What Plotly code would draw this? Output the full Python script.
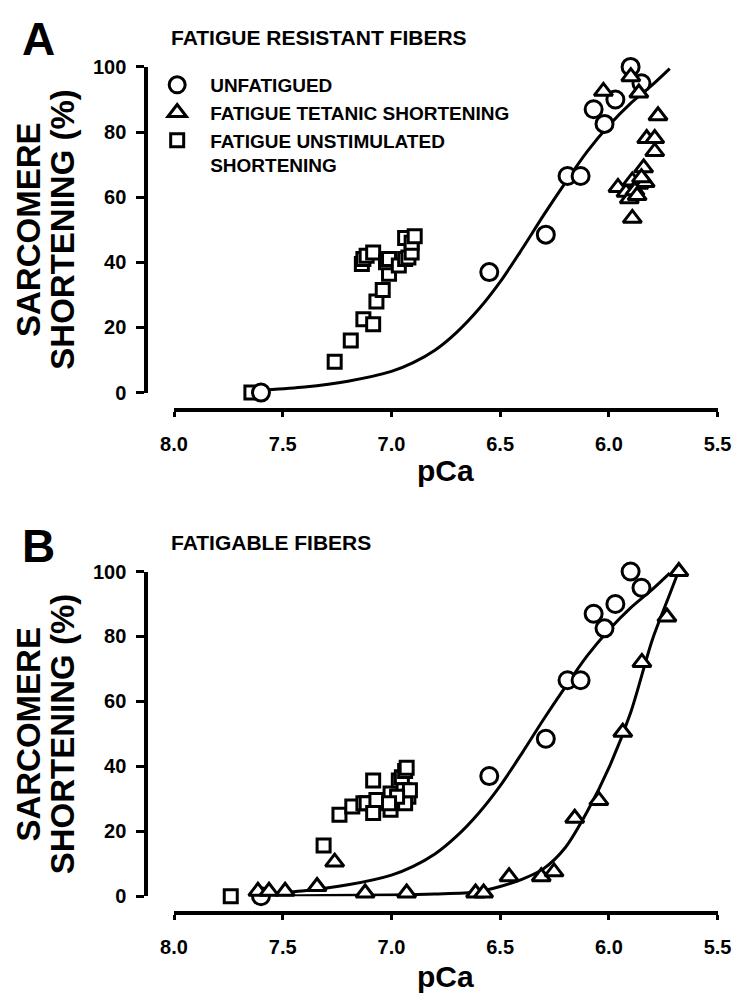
import plotly.graph_objects as go

# ---------------- data ----------------
# Panel A - fatigue resistant fibers
uf_pca = [7.60, 6.55, 6.29, 6.19, 6.13, 6.07, 6.02, 5.97, 5.90, 5.85]
uf_val = [0, 37, 48.5, 66.5, 66.5, 87, 82.5, 90, 100, 95]

uf_fit_pca = [7.58, 7.4, 7.2, 7.0, 6.9, 6.8, 6.7, 6.6, 6.5, 6.4, 6.3, 6.2, 6.1, 6.0, 5.9, 5.8, 5.72]
uf_fit_val = [0.8, 1.7, 3.5, 6.5, 9.2, 13, 18.5, 25.5, 34, 44, 54.5, 64.5, 74, 82, 88.8, 94.5, 99.5]

ftA_pca = [6.025, 5.899, 5.862, 5.774, 5.826, 5.789, 5.789, 5.840, 5.958, 5.921,
           5.892, 5.862, 5.833, 5.906, 5.892, 5.880, 5.850, 5.870]
ftA_val = [92.5, 97, 92, 85, 78, 78, 74, 69, 63, 61.5,
           65, 64, 64.5, 59.5, 53.5, 62, 66, 60.5]

fuA_pca = [7.644, 7.261, 7.187, 7.129, 7.084, 7.069, 7.040, 7.011, 7.136, 7.129, 7.114,
           7.084, 7.025, 7.011, 6.966, 6.937, 6.922, 6.907, 6.937, 6.907, 6.893]
fuA_val = [0, 9.5, 16, 22.5, 21, 28, 31.5, 36.5, 39.5, 41, 42,
           43, 40, 41, 39, 41, 41.5, 43, 47.5, 46, 48]

# Panel B - fatigable fibers
ftB_pca = [7.614, 7.563, 7.489, 7.342, 7.261, 7.121, 6.930, 6.613, 6.576, 6.459,
           6.311, 6.252, 6.157, 6.046, 5.936, 5.848, 5.733, 5.678]
ftB_val = [1.5, 1.5, 1.5, 3, 10.5, 1, 1, 1, 1, 6,
           6, 7.5, 24, 29.5, 50.5, 72, 86, 100]

ftB_fit_pca = [7.62, 7.3, 7.0, 6.8, 6.61, 6.5, 6.4, 6.3, 6.2, 6.1, 6.0, 5.9, 5.8, 5.72, 5.68]
ftB_fit_val = [0, 0.2, 0.4, 0.7, 1.3, 3, 5.2, 8.5, 15, 26, 39.5, 56.5, 79, 93, 100]

fuB_pca = [7.739, 7.312, 7.239, 7.180, 7.129, 7.084, 7.114, 7.084, 7.069, 7.004, 7.004,
           6.966, 6.952, 6.937, 6.930, 6.944, 6.922, 6.937, 6.915, 6.974, 7.011]
fuB_val = [0, 15.6, 25.1, 27.6, 28.6, 35.6, 28.6, 25.6, 29.6, 31.6, 26.6,
           35.6, 36.6, 38.6, 39.6, 32.6, 30.6, 28.6, 32.6, 30.6, 28.6]

x_ticks = [8.0, 7.5, 7.0, 6.5, 6.0, 5.5]
x_ticktext = ["8.0", "7.5", "7.0", "6.5", "6.0", "5.5"]
y_ticks = [0, 20, 40, 60, 80, 100]

names = ["UNFATIGUED", "FATIGUE TETANIC SHORTENING", "FATIGUE UNSTIMULATED<br>SHORTENING"]

# ---------------- styling ----------------
# page body has an 8px default margin; size the figure so it fills the window
OFF = 8
W, H = 746 - OFF, 1005 - OFF
FONT = "Liberation Sans, Arial, Helvetica, sans-serif"
BLACK = "black"


def fx(px):
    return (px - OFF) / W


def fy(py):
    return 1 - (py - OFF) / H


def mk(symbol, size):
    return dict(symbol=symbol, size=size, color="white",
                line=dict(color=BLACK, width=3))


fig = go.Figure()

panels = [
    ("x", "y", uf_fit_pca, uf_fit_val, None, None, fuA_pca, fuA_val, ftA_pca, ftA_val, True),
    ("x2", "y2", uf_fit_pca, uf_fit_val, ftB_fit_pca, ftB_fit_val, fuB_pca, fuB_val, ftB_pca, ftB_val, False),
]
for xa, ya, c1x, c1y, c2x, c2y, sqx, sqy, trx, try_, leg in panels:
    fig.add_trace(go.Scatter(x=c1x, y=c1y, mode="lines", xaxis=xa, yaxis=ya,
                             line=dict(color=BLACK, width=3, shape="spline", smoothing=0.8),
                             showlegend=False, cliponaxis=False, hoverinfo="skip"))
    if c2x is not None:
        fig.add_trace(go.Scatter(x=c2x, y=c2y, mode="lines", xaxis=xa, yaxis=ya,
                                 line=dict(color=BLACK, width=3, shape="spline", smoothing=0.8),
                                 showlegend=False, cliponaxis=False, hoverinfo="skip"))
    fig.add_trace(go.Scatter(x=sqx, y=sqy, mode="markers", xaxis=xa, yaxis=ya, name=names[2],
                             marker=mk("square", 13), showlegend=leg, legendrank=3,
                             cliponaxis=False))
    fig.add_trace(go.Scatter(x=uf_pca, y=uf_val, mode="markers", xaxis=xa, yaxis=ya, name=names[0],
                             marker=mk("circle", 17), showlegend=leg, legendrank=1,
                             cliponaxis=False))
    fig.add_trace(go.Scatter(x=trx, y=try_, mode="markers", xaxis=xa, yaxis=ya, name=names[1],
                             marker=mk("triangle-up", 16), showlegend=leg, legendrank=2,
                             cliponaxis=False))

tickfont = dict(family=FONT, size=20, color=BLACK, weight="bold")


def xaxis(pos):
    return dict(domain=[fx(166), fx(731)], range=[8.0, 5.5], anchor="free", position=fy(pos),
                showline=True, linecolor=BLACK, linewidth=3.5, ticks="outside", ticklen=5,
                tickwidth=3, tickcolor=BLACK, tickvals=x_ticks, ticktext=x_ticktext,
                tickfont=tickfont, showgrid=False, zeroline=False, ticklabelstandoff=10,
                fixedrange=True)


def yaxis(top, bottom):
    return dict(domain=[fy(bottom), fy(top)], range=[0, 100], anchor="free", position=fx(137),
                showline=True, linecolor=BLACK, linewidth=3.5, ticks="outside", ticklen=8,
                tickwidth=3, tickcolor=BLACK, tickvals=y_ticks, tickfont=tickfont,
                showgrid=False, zeroline=False, ticklabelstandoff=6, fixedrange=True)


def ann(text, x, y, size, xanchor="center", angle=0):
    return dict(text=text, x=fx(x), y=fy(y), xref="paper", yref="paper", showarrow=False,
                xanchor=xanchor, yanchor="middle", textangle=angle,
                font=dict(family=FONT, size=size, color=BLACK, weight="bold"))


annotations = [
    ann("A", 6, 28, 46, "left"),
    ann("FATIGUE RESISTANT FIBERS", 161, 27, 21, "left"),
    ann("B", 6, 547, 46, "left"),
    ann("FATIGABLE FIBERS", 161, 543, 21, "left"),
    ann("SARCOMERE", 15, 223, 33, angle=-90),
    ann("SHORTENING (%)", 50, 223, 33, angle=-90),
    ann("SARCOMERE", 15, 739, 33, angle=-90),
    ann("SHORTENING (%)", 50, 739, 33, angle=-90),
    ann("pCa", 448, 470, 30),
    ann("pCa", 448, 987, 30),
]

fig.update_layout(
    width=W, height=H,
    margin=dict(l=0, r=0, t=0, b=0),
    paper_bgcolor="white", plot_bgcolor="white",
    xaxis=xaxis(408), yaxis=yaxis(57, 390),
    xaxis2=xaxis(922), yaxis2=yaxis(573, 905),
    annotations=annotations,
    showlegend=True,
    legend=dict(x=fx(135), y=fy(56), xanchor="left", yanchor="top",
                font=dict(family=FONT, size=19, color=BLACK, weight="bold"),
                bgcolor="rgba(0,0,0,0)", valign="top", itemwidth=56,
                tracegroupgap=0, traceorder="normal"),
)

fig.write_html("out.html")
